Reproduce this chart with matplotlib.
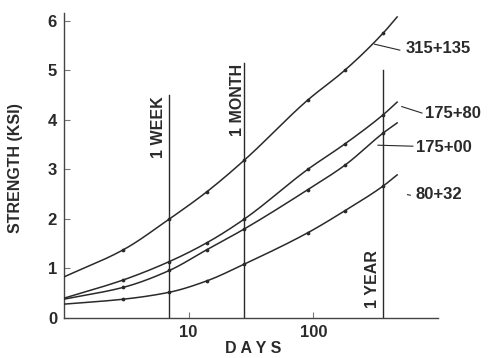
import matplotlib
matplotlib.use("Agg")
import matplotlib.pyplot as plt
import numpy as np

plt.rcParams['font.family'] = ['Liberation Sans', 'DejaVu Sans']

# Curing age (days) and compressive strength (ksi) for each mix
days = [1, 3, 7, 14, 28, 90, 180, 365, 470]
mark_days = [3, 7, 14, 28, 90, 180, 365]

mix_315_135 = [0.83, 1.38, 2.00, 2.55, 3.19, 4.40, 5.01, 5.76, 6.08]
mix_175_80 = [0.40, 0.77, 1.14, 1.52, 2.00, 3.00, 3.52, 4.11, 4.36]
mix_175_00 = [0.38, 0.62, 0.96, 1.38, 1.80, 2.59, 3.09, 3.74, 3.94]
mix_80_32 = [0.28, 0.38, 0.52, 0.75, 1.09, 1.72, 2.17, 2.67, 2.89]

series = [mix_315_135, mix_175_80, mix_175_00, mix_80_32]
series_labels = ["315+135", "175+80", "175+00", "80+32"]

# Reference ages drawn as vertical rules
ref_days = [7, 28, 365]
ref_labels = ["1 WEEK", "1 MONTH", "1 YEAR"]
ref_tops = [4.50, 5.15, 5.01]

x_ticks = [10, 100]
x_ticklabels = ["10", "100"]
y_ticks = [0, 1, 2, 3, 4, 5, 6]

ink = "#2a2a2a"
font = dict(family=['Liberation Sans', 'DejaVu Sans'], weight='bold', color=ink)


def pchip_curve(xs, ys, n=30):
    """Monotone cubic (Fritsch-Carlson) rendering through (xs, ys) in log-x space."""
    x = np.log10(np.asarray(xs, float))
    y = np.asarray(ys, float)
    h = np.diff(x)
    d = np.diff(y) / h
    m = np.zeros_like(y)
    for k in range(1, len(y) - 1):
        if d[k - 1] * d[k] > 0:
            w1 = 2 * h[k] + h[k - 1]
            w2 = h[k] + 2 * h[k - 1]
            m[k] = (w1 + w2) / (w1 / d[k - 1] + w2 / d[k])
    m[0] = d[0]
    m[-1] = d[-1]
    out_x, out_y = [], []
    for k in range(len(h)):
        t = np.linspace(0, 1, n, endpoint=False)
        h00 = 2 * t ** 3 - 3 * t ** 2 + 1
        h10 = t ** 3 - 2 * t ** 2 + t
        h01 = -2 * t ** 3 + 3 * t ** 2
        h11 = t ** 3 - t ** 2
        out_x.extend(x[k] + t * h[k])
        out_y.extend(h00 * y[k] + h10 * h[k] * m[k] + h01 * y[k + 1] + h11 * h[k] * m[k + 1])
    out_x.append(x[-1])
    out_y.append(y[-1])
    return 10 ** np.array(out_x), np.array(out_y)


fig = plt.figure(figsize=(4.9, 3.58), dpi=100)
ax = fig.add_axes([64 / 490, 1 - 318 / 358, 374 / 490, 305 / 358])
ax.set_xscale('log')
ax.set_xlim(1, 1000)
ax.set_ylim(0, 6.16)

for vals in series:
    sx, sy = pchip_curve(days, vals)
    ax.plot(sx, sy, color=ink, lw=1.1, zorder=3)
    mv = [v for d, v in zip(days, vals) if d in mark_days]
    ax.plot(mark_days, mv, ls='none', marker='o', ms=1.7, color=ink, zorder=4)

# Vertical reference lines with rotated captions
for d, top in zip(ref_days, ref_tops):
    ax.plot([d, d], [0, top], color=ink, lw=1.0, zorder=2)

ax.text(5.75, 4.48, ref_labels[0], rotation=90, ha='center', va='top', fontsize=11.5, **font)
ax.text(24.8, 5.13, ref_labels[1], rotation=90, ha='center', va='top', fontsize=11.5, **font)
ax.text(300, 0.20, ref_labels[2], rotation=90, ha='center', va='bottom', fontsize=11.5, **font)

# Series labels with leader lines
label_pos = [(545, 5.45), (790, 4.14), (668, 3.45), (655, 2.50)]
leaders = [((494, 5.41), (310, 5.53)),
           ((743, 4.14), (512, 4.27)),
           ((629, 3.47), (330, 3.49)),
           ((600, 2.48), (570, 2.49))]
for name, (tx, ty), ((x0, y0), (x1, y1)) in zip(series_labels, label_pos, leaders):
    ax.text(tx, ty, name, ha='left', va='center', fontsize=12, clip_on=False, **font)
    ax.plot([x0, x1], [y0, y1], color=ink, lw=0.8, clip_on=False)

# Axes styling
for side in ('top', 'right'):
    ax.spines[side].set_visible(False)
for side in ('left', 'bottom'):
    ax.spines[side].set_color('#444444')
    ax.spines[side].set_linewidth(1.0)

ax.set_xticks(x_ticks)
ax.set_xticklabels(x_ticklabels)
ax.xaxis.set_minor_locator(matplotlib.ticker.NullLocator())
ax.set_yticks(y_ticks)
ax.tick_params(axis='both', direction='in', length=4, width=0.8, color='#777777',
               labelsize=12, labelcolor=ink, pad=5)
for lab in ax.get_xticklabels() + ax.get_yticklabels():
    lab.set_fontweight('bold')

ax.set_xlabel("D A Y S", fontsize=11.5, **font)
ax.xaxis.set_label_coords(0.505, -0.075)
ax.set_ylabel("STRENGTH (KSI)", fontsize=11.5, **font)
ax.yaxis.set_label_coords(-0.11, 0.49)

fig.savefig("out.png", dpi=100)
